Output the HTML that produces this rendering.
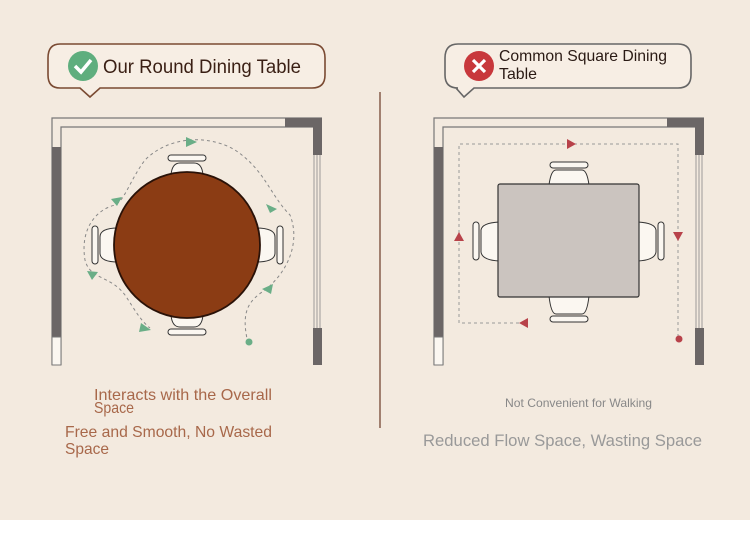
<!DOCTYPE html>
<html><head><style>
body{margin:0;width:750px;height:535px;background:#fff;overflow:hidden;font-family:"Liberation Sans",sans-serif}
</style></head><body>
<svg width="750" height="535" xmlns="http://www.w3.org/2000/svg" font-family="Liberation Sans, sans-serif">
<rect width="750" height="520" fill="#f3eadf"/>
<path d="M60,44 H312 Q325,44 325,58 V75 Q325,88 312,88 H100 L90,97 L80,88 H60 Q48,88 48,75 V58 Q48,44 60,44Z" fill="#f7eee4" stroke="#7a4a32" stroke-width="1.6"/>
<circle cx="83" cy="66" r="15" fill="#5fae7e"/>
<path d="M75,66 L81,72 L91,60" stroke="#fff" stroke-width="3.5" fill="none"/>
<text x="103" y="73" font-size="19" fill="#3a1f14" textLength="198" lengthAdjust="spacingAndGlyphs">Our Round Dining Table</text>
<path d="M458,44 H678 Q691,44 691,58 V75 Q691,88 678,88 H474 L464,97 L456,88 H458 Q445,88 445,75 V58 Q445,44 458,44Z" fill="#f7eee4" stroke="#666" stroke-width="1.6"/>
<circle cx="479" cy="66" r="15" fill="#c8383c"/>
<path d="M473,60 L485,72 M485,60 L473,72" stroke="#fff" stroke-width="3.2"/>
<text x="499" y="61" font-size="16" fill="#2a1a14" textLength="168" lengthAdjust="spacingAndGlyphs">Common Square Dining</text>
<text x="499" y="79" font-size="16" fill="#2a1a14" textLength="38" lengthAdjust="spacingAndGlyphs">Table</text>
<line x1="380" y1="92" x2="380" y2="428" stroke="#6b3a26" stroke-width="1.2"/>
<g fill="none" stroke="#777" stroke-width="1.2">
<path d="M52,365 V118 H322"/><path d="M61,365 V127 H313"/>
</g>
<rect x="285" y="118" width="37" height="9" fill="#6b6666"/>
<rect x="313" y="118" width="9" height="37" fill="#6b6666"/>
<rect x="313" y="328" width="9" height="37" fill="#6b6666"/>
<path d="M314,155 V328 M317,155 V328 M320,155 V328" stroke="#888" stroke-width="0.8"/>
<rect x="52" y="147" width="9" height="190" fill="#6b6666"/>
<rect x="52" y="337" width="9" height="28" fill="#fbf7f1" stroke="#777"/>
<g fill="#fbf7f1" stroke="#333" stroke-width="1">
<rect x="168" y="155" width="38" height="6" rx="3"/><path d="M171,175 Q172,163 180,163 H194 Q202,163 203,175Z"/>
<rect x="168" y="329" width="38" height="6" rx="3"/><path d="M171,315 Q172,327 180,327 H194 Q202,327 203,315Z"/>
<rect x="92" y="226" width="6" height="38" rx="3"/><path d="M118,228 Q100,228 100,237 V253 Q100,262 118,262Z"/>
<rect x="277" y="226" width="6" height="38" rx="3"/><path d="M256,228 Q275,228 275,237 V253 Q275,262 256,262Z"/>
</g>
<circle cx="187" cy="245" r="73" fill="#8b3c14" stroke="#2a1208" stroke-width="1.8"/>
<g fill="none" stroke="#888" stroke-width="1" stroke-dasharray="3,3">
<path d="M248,343 C240,310 250,300 265,290 C290,270 300,240 290,215 C270,195 265,170 235,150 C210,135 170,135 145,160 C130,180 125,200 115,205 C95,210 80,230 85,260 C90,280 110,275 125,295 C135,310 140,320 150,328"/>
</g>
<g fill="#6aae87">
<path d="M197,142 L186,137 L186,147Z"/><path d="M122,197 L111,199 L117,206Z"/>
<path d="M277,209 L266,204 L270,213Z"/><path d="M262,289 L273,284 L271,294Z"/>
<path d="M87,271 L98,272 L92,280Z"/><path d="M151,330 L141,323 L139,332Z"/>
<circle cx="249" cy="342" r="3.5"/>
</g>
<g fill="none" stroke="#777" stroke-width="1.2">
<path d="M434,365 V118 H704"/><path d="M443,365 V127 H695"/>
</g>
<rect x="667" y="118" width="37" height="9" fill="#6b6666"/>
<rect x="695" y="118" width="9" height="37" fill="#6b6666"/>
<rect x="695" y="328" width="9" height="37" fill="#6b6666"/>
<path d="M696,155 V328 M699,155 V328 M702,155 V328" stroke="#888" stroke-width="0.8"/>
<rect x="434" y="147" width="9" height="190" fill="#6b6666"/>
<rect x="434" y="337" width="9" height="28" fill="#fbf7f1" stroke="#777"/>
<g fill="#fbf7f1" stroke="#333" stroke-width="1">
<rect x="550" y="162" width="38" height="6" rx="3"/><path d="M549,185 Q551,170 556,170 H582 Q587,170 589,185Z"/>
<rect x="550" y="316" width="38" height="6" rx="3"/><path d="M549,296 Q551,314 556,314 H582 Q587,314 589,296Z"/>
<rect x="473" y="222" width="6" height="38" rx="3"/><path d="M499,222 Q482,223 481,230 V252 Q482,260 499,261Z"/>
<rect x="658" y="222" width="6" height="38" rx="3"/><path d="M638,222 Q655,223 656,230 V252 Q655,260 638,261Z"/>
</g>
<rect x="498" y="184" width="141" height="113" rx="2" fill="#cbc4bf" stroke="#333" stroke-width="1.2"/>
<path d="M678,337 V144 H459 V323 H524" fill="none" stroke="#999" stroke-width="1" stroke-dasharray="3,3"/>
<g fill="#b8424a">
<path d="M576,144 L567,139 L567,149Z"/><path d="M678,241 L673,232 L683,232Z"/>
<path d="M519,323 L528,318 L528,328Z"/><path d="M459,232 L454,241 L464,241Z"/>
<circle cx="679" cy="339" r="3.5"/>
</g>
<g fill="#a8684a" font-size="16">
<text x="94" y="400" textLength="178" lengthAdjust="spacingAndGlyphs">Interacts with the Overall</text>
<text x="94" y="413" textLength="40" lengthAdjust="spacingAndGlyphs">Space</text>
<text x="65" y="437" textLength="207" lengthAdjust="spacingAndGlyphs">Free and Smooth, No Wasted</text>
<text x="65" y="454" textLength="44" lengthAdjust="spacingAndGlyphs">Space</text>
</g>
<text x="505" y="407" font-size="12" fill="#888" textLength="147" lengthAdjust="spacingAndGlyphs">Not Convenient for Walking</text>
<text x="423" y="446" font-size="17" fill="#999" textLength="279" lengthAdjust="spacingAndGlyphs">Reduced Flow Space, Wasting Space</text>
</svg>
</body></html>
